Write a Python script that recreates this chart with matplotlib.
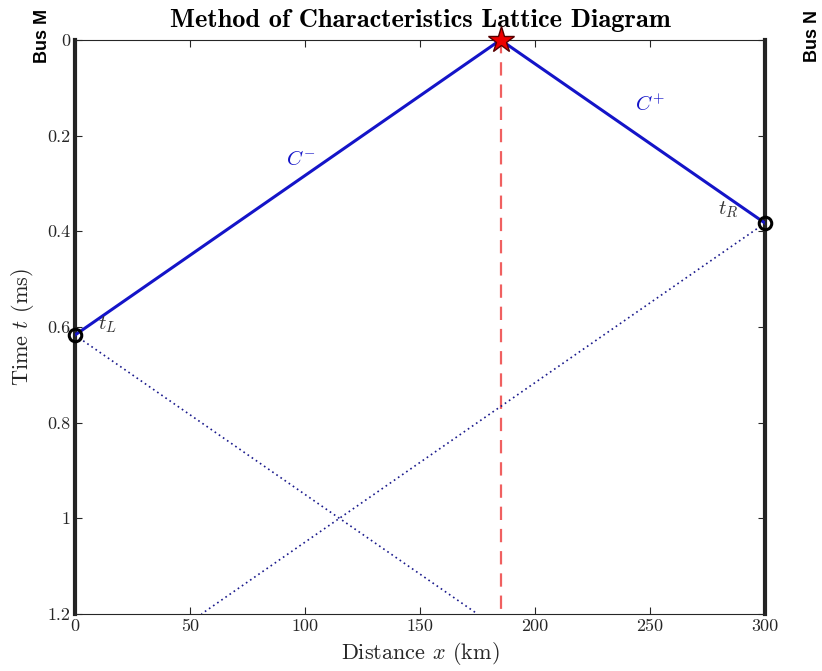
import matplotlib
matplotlib.use("Agg")
import matplotlib.pyplot as plt

# ── data ───────────────────────────────────────────────
line_len   = 300          # km, Bus M at 0, Bus N at 300
fault_x    = 185          # km
t_left     = 0.617        # ms, arrival at Bus M
t_right    = 0.383        # ms, arrival at Bus N
t_max      = 1.2

c_minus_x  = [fault_x, 0]
c_minus_t  = [0, t_left]
c_plus_x   = [fault_x, line_len]
c_plus_t   = [0, t_right]
refl_m_x   = [0, 175]
refl_m_t   = [t_left, t_max]
refl_n_x   = [line_len, 55]
refl_n_t   = [t_right, t_max]

x_ticks    = [0, 50, 100, 150, 200, 250, 300]
y_ticks    = [0, 0.2, 0.4, 0.6, 0.8, 1.0, 1.2]
y_labels   = ["0", "0.2", "0.4", "0.6", "0.8", "1", "1.2"]

plt.rcParams.update({
    "font.family":       "cmr10",
    "mathtext.fontset":  "cm",
    "axes.formatter.use_mathtext": True,
})

BLUE = "#1414c8"
RED  = "#f06060"

fig = plt.figure(figsize=(8.22, 6.71), dpi=100)
ax = fig.add_axes([0.0912, 0.085, 0.8395, 0.8555])

# bus bars
ax.axvline(0, color="#222222", lw=3, zorder=1, clip_on=False)
ax.axvline(line_len, color="#222222", lw=3, zorder=1, clip_on=False)

# fault position
ax.plot([fault_x, fault_x], [0, t_max], color=RED, lw=1.6,
        dashes=(6, 4), zorder=2)

# first characteristics
ax.plot(c_minus_x, c_minus_t, color=BLUE, lw=2.2, zorder=3)
ax.plot(c_plus_x, c_plus_t, color=BLUE, lw=2.2, zorder=3)

# reflections
ax.plot(refl_m_x, refl_m_t, color="#1a1a8c", lw=1.2, ls=(0, (1, 2)), zorder=3)
ax.plot(refl_n_x, refl_n_t, color="#1a1a8c", lw=1.2, ls=(0, (1, 2)), zorder=3)

# arrivals + fault star
ax.plot([0], [t_left], "o", ms=9, mfc="none", mec="black", mew=2.2,
        zorder=5, clip_on=False)
ax.plot([line_len], [t_right], "o", ms=9, mfc="none", mec="black", mew=2.2,
        zorder=5, clip_on=False)
ax.plot([fault_x], [0], "*", ms=20, mfc="#ee0000", mec="#550000", mew=1.0,
        zorder=6, clip_on=False)

# labels on the diagram
ax.text(98, 0.25, r"$C^{-}$", color=BLUE, fontsize=15, ha="center", va="center")
ax.text(250, 0.135, r"$C^{+}$", color=BLUE, fontsize=15, ha="center", va="center")
ax.text(14, 0.595, r"$t_L$", color="#333333", fontsize=15, ha="center", va="center")
ax.text(284, 0.355, r"$t_R$", color="#333333", fontsize=15, ha="center", va="center")

ax.set_xlim(0, line_len)
ax.set_ylim(t_max, 0)
ax.set_xticks(x_ticks)
ax.set_xticklabels([str(v) for v in x_ticks])
ax.set_yticks(y_ticks)
ax.set_yticklabels(y_labels)
ax.tick_params(direction="in", length=5, labelsize=13, colors="#262626",
               top=True, right=True, labeltop=False, labelright=False)
for s in ax.spines.values():
    s.set_color("#262626")
    s.set_linewidth(0.8)

ax.set_xlabel(r"Distance $x$ (km)", fontsize=16, color="#262626", labelpad=4)
ax.set_ylabel(r"Time $t$ (ms)", fontsize=16, color="#262626", labelpad=8)
ax.set_title("Method of Characteristics Lattice Diagram", fontsize=19,
             family="cmb10", pad=9)

fig.text(0.052, 0.947, "Bus M", rotation=90, family="Liberation Sans",
         fontweight="bold", fontsize=13, ha="center", va="center")
fig.text(0.989, 0.947, "Bus N", rotation=90, family="Liberation Sans",
         fontweight="bold", fontsize=13, ha="center", va="center")

fig.savefig("out.png", dpi=100)
